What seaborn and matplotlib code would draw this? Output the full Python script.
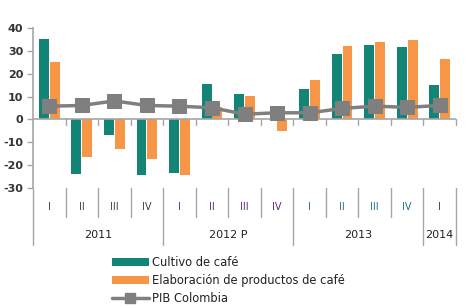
import numpy as np
import pandas as pd
import matplotlib
matplotlib.use("Agg")
import matplotlib.pyplot as plt
import matplotlib.transforms as mtransforms
from matplotlib.lines import Line2D
from matplotlib.patches import Patch
import seaborn as sns

# ---------------- DATA ----------------
trimestres = ['I', 'II', 'III', 'IV', 'I', 'II', 'III', 'IV', 'I', 'II', 'III', 'IV', 'I']
anios = ['2011', '2012 P', '2013', '2014']
anio_n = [4, 4, 4, 1]
cultivo = [35.1, -23.9, -6.8, -24.2, -23.6, 15.5, 11.0, 0.0, 13.3, 28.7, 32.5, 31.7, 14.9]
elaboracion = [25.0, -16.5, -12.8, -17.1, -24.2, 5.5, 10.3, -5.1, 17.4, 32.2, 34.0, 34.9, 26.5]
pib = [5.8, 6.1, 8.1, 6.1, 5.8, 5.1, 2.3, 2.9, 2.9, 4.8, 5.8, 5.3, 6.1]
label_colors = ['#404040', '#5b2d82', '#2a6f8f', '#404040']

TEAL = '#138576'
ORANGE = '#F79646'
GRAY = '#7f7f7f'
AXC = '#a6a6a6'

n = len(trimestres)
df = pd.DataFrame({
    'idx': list(range(n)) * 2,
    'valor': cultivo + elaboracion,
    'serie': ['Cultivo de café'] * n + ['Elaboración de productos de café'] * n,
})

sns.set_style('white')
plt.rcParams['font.family'] = ['DejaVu Sans']
plt.rcParams['axes.unicode_minus'] = False

fig = plt.figure(figsize=(4.66, 3.08), dpi=100)
ax = fig.add_axes([33 / 466, (308 - 188) / 308, (456 - 33) / 466, 160 / 308])

sns.barplot(data=df, x='idx', y='valor', hue='serie',
            palette=[TEAL, ORANGE], width=0.66, gap=0.08, linewidth=0,
            legend=False, ax=ax, saturation=1)
sns.lineplot(x=np.arange(n), y=pib, color=GRAY, linewidth=2.5,
             marker='s', markersize=9.5, markeredgecolor=GRAY, ax=ax)

ax.set_xlim(-0.5, n - 0.5)
ax.set_ylim(-30, 40)
ax.set_yticks(range(-30, 41, 10))
ax.tick_params(axis='y', labelsize=8, colors='#333333', length=4, width=1,
               direction='out', left=True, color=AXC, pad=3)
for t in ax.get_yticklabels():
    t.set_fontweight('bold')
ax.set_xticks([])
ax.set_xlabel('')
ax.set_ylabel('')
for s in ['top', 'right', 'bottom']:
    ax.spines[s].set_visible(False)
ax.spines['left'].set_color(AXC)
ax.spines['left'].set_linewidth(1.2)
ax.axhline(0, color=AXC, lw=1.2, zorder=1)

# small ticks below zero line
tr = mtransforms.blended_transform_factory(ax.transData, ax.transAxes)
for b in np.arange(0.5, n, 1.0):
    ax.plot([b, b], [0, -2.6], color=AXC, lw=1, clip_on=False)

# category axis below plot
px = 1 / 160  # axes fraction per pixel
year_edges = np.cumsum([0] + anio_n) - 0.5
for b in np.arange(-0.5, n + 0.5, 1.0):
    is_year = np.any(np.isclose(b, year_edges))
    bottom = -57 * px if is_year else -29 * px
    ax.plot([b, b], [0, bottom], color=AXC, lw=1, transform=tr, clip_on=False)

start = 0
for a, k, c in zip(anios, anio_n, label_colors):
    for i in range(start, start + k):
        ax.text(i, -19 * px, trimestres[i], transform=tr, ha='center', va='center',
                fontsize=7, color=c)
    ax.text(start + (k - 1) / 2, -47 * px, a, transform=tr, ha='center', va='center',
            fontsize=8, color='#222222')
    start += k

handles = [
    Patch(facecolor=TEAL, edgecolor='none'),
    Patch(facecolor=ORANGE, edgecolor='none'),
    Line2D([0], [0], color=GRAY, lw=2.5, marker='s', markersize=7),
]
labels = ['Cultivo de café', 'Elaboración de productos de café', 'PIB Colombia']
fig.legend(handles, labels, loc='upper left', bbox_to_anchor=(112 / 466, 1 - 256 / 308),
           frameon=False, fontsize=8.3, handlelength=3.2, handleheight=0.7,
           handletextpad=0.3, labelspacing=0.42, borderpad=0, borderaxespad=0,
           labelcolor='#222222')

fig.savefig('out.png', dpi=100)
